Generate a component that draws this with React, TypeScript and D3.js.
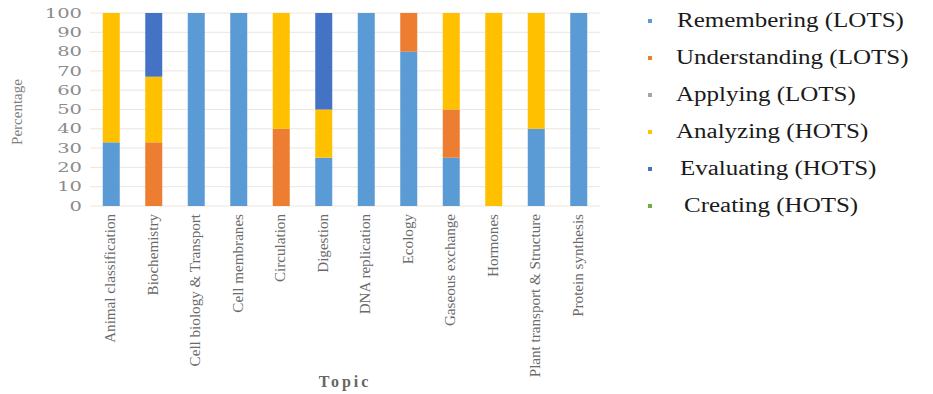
import React from "react";
import * as d3 from "d3";

// -- DATA --
const topics = [
  "Animal classification",
  "Biochemistry",
  "Cell biology & Transport",
  "Cell membranes",
  "Circulation",
  "Digestion",
  "DNA replication",
  "Ecology",
  "Gaseous exchange",
  "Hormones",
  "Plant transport & Structure",
  "Protein synthesis",
];
const levels = [
  "Remembering (LOTS)",
  "Understanding (LOTS)",
  "Applying (LOTS)",
  "Analyzing (HOTS)",
  "Evaluating (HOTS)",
  "Creating (HOTS)",
];
const levelColors = ["#5b9bd5", "#ed7d31", "#a5a5a5", "#ffc000", "#4472c4", "#70ad47"];
const remembering = [33, 0, 100, 100, 0, 25, 100, 80, 25, 0, 40, 100];
const understanding = [0, 33, 0, 0, 40, 0, 0, 20, 25, 0, 0, 0];
const applying = [0, 0, 0, 0, 0, 0, 0, 0, 0, 0, 0, 0];
const analyzing = [67, 34, 0, 0, 60, 25, 0, 0, 50, 100, 60, 0];
const evaluating = [0, 33, 0, 0, 0, 50, 0, 0, 0, 0, 0, 0];
const creating = [0, 0, 0, 0, 0, 0, 0, 0, 0, 0, 0, 0];
const yTicks = [0, 10, 20, 30, 40, 50, 60, 70, 80, 90, 100];

const App = () => {
  const svgRef = React.useRef<SVGSVGElement | null>(null);

  React.useEffect(() => {
    const svg = d3.select(svgRef.current);
    svg.selectAll("*").remove();

    const plot = { left: 90, right: 600, top: 13, bottom: 206 };
    const serif = "'Liberation Serif', 'Times New Roman', serif";

    const rows = topics.map((t, i) => ({
      topic: t,
      [levels[0]]: remembering[i],
      [levels[1]]: understanding[i],
      [levels[2]]: applying[i],
      [levels[3]]: analyzing[i],
      [levels[4]]: evaluating[i],
      [levels[5]]: creating[i],
    }));
    const stacked = d3.stack<any>().keys(levels)(rows);

    const x = d3
      .scaleBand()
      .domain(topics)
      .range([plot.left, plot.right])
      .paddingInner(0.6)
      .paddingOuter(0.3);
    const y = d3.scaleLinear().domain([0, 100]).range([plot.bottom, plot.top]);

    // gridlines
    svg
      .append("g")
      .selectAll("line")
      .data(yTicks)
      .enter()
      .append("line")
      .attr("x1", plot.left)
      .attr("x2", plot.right)
      .attr("y1", (d) => y(d))
      .attr("y2", (d) => y(d))
      .style("stroke", "#ece6dc")
      .style("stroke-width", 1);

    // y tick labels (wide serif look)
    svg
      .append("g")
      .selectAll("text")
      .data(yTicks)
      .enter()
      .append("text")
      .attr("transform", (d) => `translate(82, ${y(d)}) scale(1.5, 1)`)
      .attr("dy", "0.36em")
      .attr("text-anchor", "end")
      .style("font-family", "'DejaVu Serif', serif")
      .style("font-size", "13px")
      .style("fill", "#8c8c8c")
      .text((d) => d);

    // bars
    svg
      .append("g")
      .selectAll("g")
      .data(stacked)
      .enter()
      .append("g")
      .style("fill", (d, i) => levelColors[i])
      .selectAll("rect")
      .data((d) => d)
      .enter()
      .append("rect")
      .attr("x", (d: any) => x(d.data.topic)!)
      .attr("width", x.bandwidth())
      .attr("y", (d) => y(d[1]))
      .attr("height", (d) => y(d[0]) - y(d[1]));

    // category labels
    svg
      .append("g")
      .selectAll("text")
      .data(topics)
      .enter()
      .append("text")
      .attr(
        "transform",
        (d) => `translate(${x(d)! + x.bandwidth() / 2 + 4}, 214) rotate(-90) scale(1.08, 1)`
      )
      .attr("text-anchor", "end")
      .style("font-family", serif)
      .style("font-size", "14px")
      .style("fill", "#6a6a6a")
      .text((d) => d);

    // axis titles
    svg
      .append("text")
      .attr("transform", "translate(22, 112) rotate(-90)")
      .attr("text-anchor", "middle")
      .style("font-family", serif)
      .style("font-size", "15px")
      .style("fill", "#7f7f7f")
      .text("Percentage");
    svg
      .append("text")
      .attr("x", (plot.left + plot.right) / 2)
      .attr("y", 387)
      .attr("text-anchor", "middle")
      .style("font-family", serif)
      .style("font-size", "16px")
      .style("font-weight", "bold")
      .style("letter-spacing", "3px")
      .style("fill", "#666")
      .text("Topic");

    // legend
    const legendY = d3.scalePoint().domain(levels).range([20, 205]);
    const legendX = [677, 676, 676, 676, 680, 684];
    const legend = svg
      .append("g")
      .selectAll("g")
      .data(levels)
      .enter()
      .append("g")
      .attr("transform", (d) => `translate(0, ${legendY(d)})`);
    legend
      .append("rect")
      .attr("x", 648)
      .attr("y", -1)
      .attr("width", 4)
      .attr("height", 4)
      .style("fill", (d, i) => levelColors[i]);
    legend
      .append("text")
      .attr("transform", (d, i) => `translate(${legendX[i]}, 0) scale(1.25, 1)`)
      .attr("dy", "0.35em")
      .style("font-family", serif)
      .style("font-size", "20px")
      .style("fill", "#1a1a1a")
      .text((d) => d);
  }, []);

  return (
    <svg
      ref={svgRef}
      width={933}
      height={394}
      style={{ position: "absolute", left: 0, top: 0, background: "#fff" }}
    />
  );
};

export default App;
